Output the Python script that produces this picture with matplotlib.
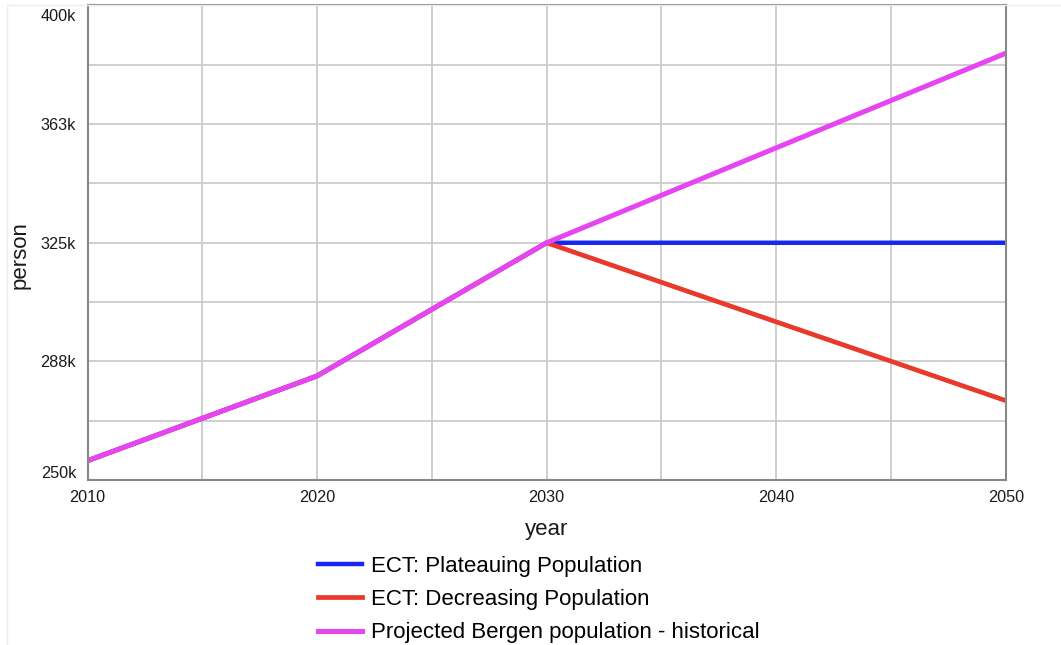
import numpy as np
import matplotlib.pyplot as plt
import matplotlib.transforms as mtransforms
from matplotlib.patches import Rectangle

plt.rcParams['font.family'] = ['Liberation Sans', 'DejaVu Sans']

# ── data ────────────────────────────────────────────────────────────────────
years = [2010, 2020, 2030, 2040, 2050]
plateau = [256100, 282900, 325000, 325000, 325000]
decreasing = [256100, 282900, 325000, 300000, 275100]
historical = [256100, 282900, 325000, 355000, 384900]

y_ticks = [250000, 287500, 325000, 362500, 400000]
y_labels = ['250k', '288k', '325k', '363k', '400k']
x_ticks = [2010, 2020, 2030, 2040, 2050]

fig = plt.figure(figsize=(10.61, 6.45), dpi=100)
ax = fig.add_axes([0.0825, 0.2558, 0.8654, 0.7357])

# faint panel border
fig.patches.append(Rectangle((7 / 1061, -0.01), 1.02, 1 - 5 / 645 + 0.01,
                             transform=fig.transFigure, fill=False,
                             edgecolor='#eeeeee', linewidth=1))

ax.plot(years, plateau, color='#1428f0', linewidth=3.2, label='ECT: Plateauing Population')
ax.plot(years, decreasing, color='#e8392b', linewidth=3.4, label='ECT: Decreasing Population')
ax.plot(years, historical, color='#e645f2', linewidth=3.6, label='Projected Bergen population - historical')

ax.set_xlim(2010, 2050)
ax.set_ylim(250000, 400000)
ax.set_xticks(x_ticks)
ax.set_xticks(np.arange(2010, 2051, 5), minor=True)
ax.set_yticks(y_ticks)
ax.set_yticklabels(y_labels)
ax.set_yticks(np.arange(250000, 400001, 18750), minor=True)
ax.grid(True, which='both', color='#cccccc', linewidth=1.3)
ax.set_axisbelow(True)
ax.tick_params(which='both', length=0, labelsize=11.7, colors='#1a1a1a')
ax.tick_params(axis='x', pad=7)
ax.tick_params(axis='y', pad=8.3)

# end labels pushed inside the axis range, as in the reference
ylabs = ax.get_yticklabels()
ylabs[0].set_transform(ylabs[0].get_transform() + mtransforms.ScaledTranslation(0, 8 / 100, fig.dpi_scale_trans))
ylabs[-1].set_transform(ylabs[-1].get_transform() + mtransforms.ScaledTranslation(0, -9.5 / 100, fig.dpi_scale_trans))

for s in ax.spines.values():
    s.set_color('#888888')
    s.set_linewidth(1.5)

ax.set_xlabel('year', fontsize=16, color='#1a1a1a', va='center')
ax.xaxis.set_label_coords(0.5, -0.105)
ax.set_ylabel('person', fontsize=16, color='#1a1a1a', va='center')
ax.yaxis.set_label_coords(-0.0735, 0.474)

fig.legend(loc='upper left', bbox_to_anchor=(318 / 1061, 1 - 556 / 645),
           frameon=False, fontsize=16, handlelength=2.0, handletextpad=0.4,
           labelspacing=0.55, borderpad=0, borderaxespad=0)

plt.savefig('out.png', dpi=100)
